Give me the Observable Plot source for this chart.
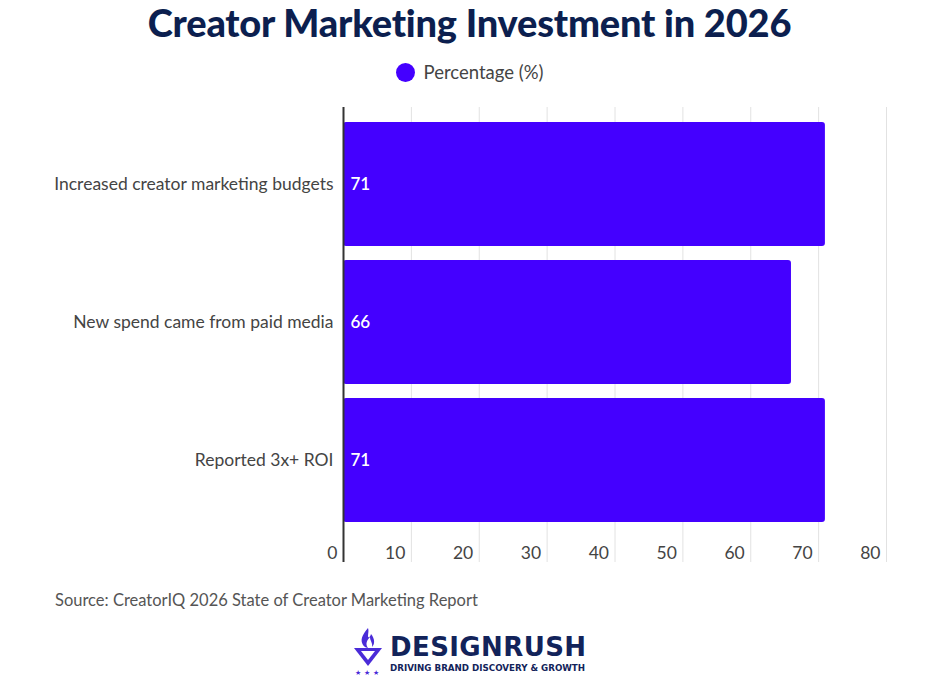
<!DOCTYPE html>
<html>
<head>
<meta charset="utf-8">
<script src="https://cdn.jsdelivr.net/npm/d3@7"></script>
<script src="https://cdn.jsdelivr.net/npm/@observablehq/plot@0.6"></script>
<style>
  html, body { margin: 0; padding: 0; background: #fff; }
  #wrap { position: relative; width: 939px; height: 676px; overflow: hidden; font-family: Lato, "Open Sans", sans-serif; }
  #title { position: absolute; top: 0; left: 0; width: 939px; text-align: center; font-size: 38px; font-weight: 900; color: #0c1f4f; line-height: 44px; letter-spacing: -0.2px; }
  #legend { position: absolute; top: 61px; left: 0; width: 939px; display: flex; justify-content: center; align-items: center; font-size: 18.5px; color: #444; gap: 9px; }
  #legend .dot { width: 19px; height: 19px; border-radius: 50%; background: #4400ff; }
  #chart { position: absolute; top: 95px; left: 0; }
  #source { position: absolute; top: 590px; left: 55px; font-size: 16.5px; color: #555; }
  #logo { position: absolute; top: 626px; left: 352px; display: flex; align-items: flex-start; gap: 6px; }
  #logo .name { font-family: "DejaVu Sans", sans-serif; font-weight: bold; font-size: 26px; color: #12235a; line-height: 30px; letter-spacing: 0.4px; }
  #logo .tag { font-family: "DejaVu Sans", sans-serif; font-weight: bold; font-size: 8.7px; color: #12235a; line-height: 12px; letter-spacing: 0px; }
</style>
</head>
<body>
<div id="wrap">
  <div id="title">Creator Marketing Investment in 2026</div>
  <div id="legend"><span class="dot"></span><span id="legend-label"></span></div>
  <div id="chart"></div>
  <div id="source">Source: CreatorIQ 2026 State of Creator Marketing Report</div>
  <div id="logo">
    <svg width="32" height="50" viewBox="0 0 32 50">
      <path d="M16 2 C10 9 8 14 11 19 C12 21 15 22 16 22 C13 18 15 14 18 11 C18 15 21 17 20 21 C23 18 23 13 19 8 C18 12 16 12 16 10 C16 7 17 5 16 2 Z" fill="#4a2bd8"/>
      <path d="M2 22 L30 22 L16 40 Z" fill="#4a2bd8"/>
      <path d="M9 25 L23 25 L16 34 Z" fill="#fff"/>
      <text x="3" y="49" font-size="7" fill="#4a2bd8">★</text>
      <text x="12" y="49" font-size="7" fill="#4a2bd8">★</text>
      <text x="21" y="49" font-size="7" fill="#4a2bd8">★</text>
    </svg>
    <div style="margin-top:6px">
      <div class="name">DESIGNRUSH</div>
      <div class="tag">DRIVING BRAND DISCOVERY &amp; GROWTH</div>
    </div>
  </div>
</div>
<script>
const categories = [
  "Increased creator marketing budgets",
  "New spend came from paid media",
  "Reported 3x+ ROI"
];
const values = [71, 66, 71];
const seriesName = "Percentage (%)";
const xTicks = [0, 10, 20, 30, 40, 50, 60, 70, 80];

document.getElementById("legend-label").textContent = seriesName;

const data = categories.map((c, i) => ({category: c, value: values[i]}));

const chart = Plot.plot({
  width: 939,
  height: 480,
  marginTop: 12,
  marginBottom: 38,
  marginLeft: 343,
  marginRight: 53,
  style: {fontFamily: "Lato, 'Open Sans', sans-serif", fontSize: "16px", color: "#444", background: "transparent"},
  x: {domain: [0, 80], ticks: xTicks},
  y: {domain: categories, paddingInner: 0.105, paddingOuter: 0.1},
  marks: [
    Plot.gridX(xTicks, {stroke: "#e2e2e2", strokeOpacity: 1, strokeWidth: 1, insetBottom: -25}),
    Plot.barX(data, {x: "value", y: "category", fill: "#4400ff", rx: 3}),
    Plot.ruleX([0], {stroke: "#333", strokeWidth: 2, insetBottom: -25}),
    Plot.text(data, {x: 0, y: "category", text: d => String(d.value), fill: "white", textAnchor: "start", dx: 7, fontSize: 17, fontWeight: 600}),
    Plot.axisY({tickSize: 0, tickPadding: 10, label: null, fontSize: 17.5, fill: "#444"}),
    Plot.axisX(xTicks, {tickSize: 0, tickPadding: 9, label: null, textAnchor: "end", dx: -6, fontSize: 17.5, fill: "#444"})
  ]
});
document.getElementById("chart").appendChild(chart);
</script>
</body>
</html>
